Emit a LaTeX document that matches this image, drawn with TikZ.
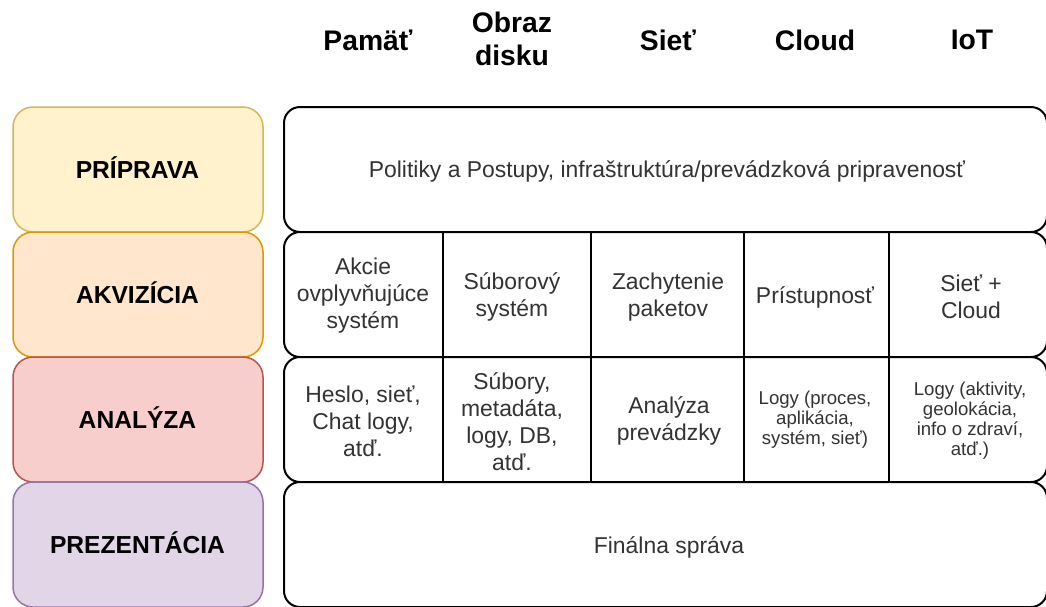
\documentclass[tikz,border=0pt]{standalone}
\usepackage{fontspec}
\setmainfont{Liberation Sans}
\definecolor{prepfill}{HTML}{FFF2CC}\definecolor{prepline}{HTML}{D6B656}
\definecolor{acqfill}{HTML}{FFE6CC}\definecolor{acqline}{HTML}{D79B00}
\definecolor{anafill}{HTML}{F8CECC}\definecolor{analine}{HTML}{B85450}
\definecolor{presfill}{HTML}{E1D5E7}\definecolor{presline}{HTML}{9673A6}
\definecolor{bodytext}{HTML}{333333}
\begin{document}
\begin{tikzpicture}[x=1pt,y=-1pt,
  stage/.style={draw, line width=1.5pt, rounded corners=20pt, minimum width=250pt,
    minimum height=125pt, inner sep=0pt},
  stagelabel/.style={text=black, inner sep=0pt,
    font=\fontsize{24.6}{28}\selectfont\bfseries},
  band/.style={draw=black, fill=white, line width=2pt, rounded corners=16pt,
    minimum width=763pt, minimum height=125pt, inner sep=0pt},
  cell/.style={align=center, text=bodytext, inner sep=0pt,
    font=\fontsize{22.9}{27}\selectfont},
  smallcell/.style={align=center, text=bodytext, inner sep=0pt,
    font=\fontsize{18.6}{20}\selectfont},
  head/.style={align=center, text=black, inner sep=0pt,
    font=\fontsize{28.3}{33}\selectfont\bfseries},
  divider/.style={draw=black, line width=2pt}]
\useasboundingbox (0,0) rectangle (1046,606);
\clip (0,0) rectangle (1046,606);

% column headings
\node[head] (hmem)   at (368,40) {Pamäť};
\node[head] (hdisk)  at (512,39) {Obraz\\disku};
\node[head] (hnet)   at (668,40) {Sieť};
\node[head] (hcloud) at (815,40) {Cloud};
\node[head] (hiot)   at (972,40) {IoT};

% phase boxes on the left
\node[stage, fill=prepfill, draw=prepline] (prep) at (138,169.5) {};
\node[stage, fill=acqfill,  draw=acqline]  (acq)  at (138,294.5) {};
\node[stage, fill=anafill,  draw=analine]  (ana)  at (138,419.5) {};
\node[stage, fill=presfill, draw=presline] (pres) at (138,544.5) {};
\node[stagelabel] (lprep) at (137.5,168) {PRÍPRAVA};
\node[stagelabel] (lacq)  at (137.5,293) {AKVIZÍCIA};
\node[stagelabel] (lana)  at (137.5,418) {ANALÝZA};
\node[stagelabel] (lpres) at (137.5,543) {PREZENTÁCIA};

% content bands on the right
\node[band] (rowprep) at (665.5,169.5) {};
\node[band] (rowacq)  at (665.5,294.5) {};
\node[band] (rowana)  at (665.5,419.5) {};
\node[band] (rowpres) at (665.5,544.5) {};

% column dividers through the acquisition and analysis bands
\foreach \i/\x in {1/443,2/591,3/744,4/889} {
  \coordinate (dtop\i) at (\x,232);
  \coordinate (dbot\i) at (\x,482);
  \draw[divider] (dtop\i) -- (dbot\i);
}

% band texts
\node[cell] (tprep) at (667,171) {Politiky a Postupy, infraštruktúra/prevádzková pripravenosť};

\node[cell] (a1) at (363,296) {Akcie\\ovplyvňujúce\\systém};
\node[cell] (a2) at (512,297) {Súborový\\systém};
\node[cell] (a3) at (668,297) {Zachytenie\\paketov};
\node[cell] (a4) at (815,297) {Prístupnosť};
\node[cell] (a5) at (971,297) {Sieť +\\Cloud};

\node[cell] (n1) at (363,421) {Heslo, sieť,\\Chat logy,\\atď.};
\node[cell] (n2) at (512,422) {Súbory,\\metadáta,\\logy, DB,\\atď.};
\node[cell] (n3) at (669,421) {Analýza\\prevádzky};
\node[smallcell] (n4) at (815,419.5) {Logy (proces,\\aplikácia,\\systém, sieť)};
\node[smallcell] (n5) at (970,420.5) {Logy (aktivity,\\geolokácia,\\info o zdraví,\\atď.)};

\node[cell] (tpres) at (669,547) {Finálna správa};
\end{tikzpicture}
\end{document}
